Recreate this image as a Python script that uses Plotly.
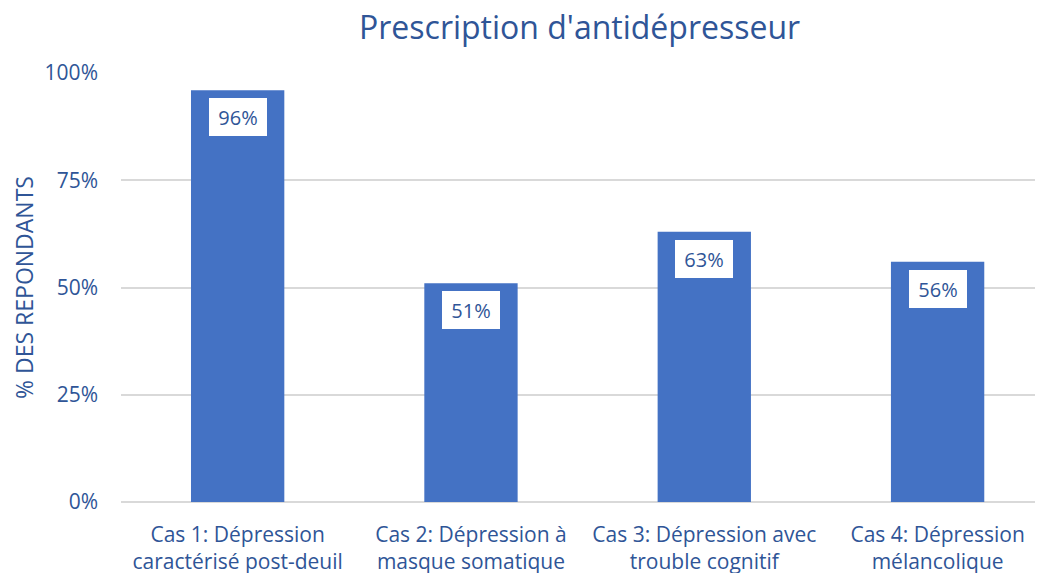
import plotly.graph_objects as go

categories = [
    "Cas 1: Dépression<br>caractérisé post-deuil",
    "Cas 2: Dépression à<br>masque somatique",
    "Cas 3: Dépression avec<br>trouble cognitif",
    "Cas 4: Dépression<br>mélancolique",
]
values = [0.96, 0.51, 0.63, 0.56]
tick_vals = [0, 0.25, 0.5, 0.75, 1.0]
tick_text = ["0%", "25%", "50%", "75%", "100%"]

TEXT = "#2F5597"
BAR = "#4472C4"
GRID = "#D9D9D9"
FONT = "Open Sans"

fig = go.Figure()
fig.add_trace(go.Bar(x=categories, y=values, marker=dict(color=BAR, line=dict(width=0)),
                     hoverinfo="skip"))

# white value boxes inside the top of each bar
for cat, v in zip(categories, values):
    fig.add_annotation(x=cat, y=v, yanchor="top", yshift=-8, showarrow=False,
                       text=f"{round(v * 100)}%", bgcolor="white", borderwidth=0,
                       borderpad=4, width=50, height=30,
                       font=dict(family=FONT, size=20, color=TEXT))

# the page body has an 8px margin, so the margins here are 8px smaller
fig.update_layout(
    width=1043, height=573,
    margin=dict(l=113, r=0, t=65, b=79, autoexpand=False),
    paper_bgcolor="white", plot_bgcolor="white",
    bargap=0.6,
    showlegend=False,
    title=dict(text="Prescription d'antidépresseur", x=0.548, xanchor="center",
               y=0.965, yanchor="middle", font=dict(family=FONT, size=32, color=TEXT)),
    font=dict(family=FONT, color=TEXT),
)
fig.update_xaxes(range=[-0.5, 3.486], showgrid=False, showline=False, ticks="",
                 automargin=False,
                 tickfont=dict(family=FONT, size=21, color=TEXT), ticklabelstandoff=18)
fig.update_yaxes(range=[0, 1.0], tickvals=tick_vals, ticktext=tick_text,
                 showgrid=True, gridcolor=GRID, gridwidth=2,
                 zeroline=True, zerolinecolor=GRID, zerolinewidth=2,
                 showline=False, ticks="", ticklabelstandoff=22, automargin=False,
                 tickfont=dict(family=FONT, size=21, color=TEXT),
                 title=dict(text="% DES REPONDANTS", standoff=11,
                            font=dict(family=FONT, size=23, color=TEXT)))

fig.write_html("out.html")
